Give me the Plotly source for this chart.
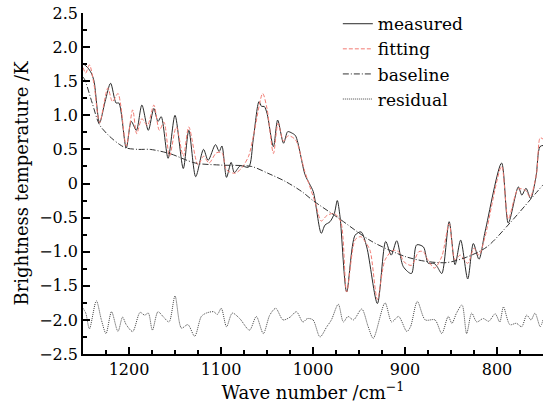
import plotly.graph_objects as go

# measured spectrum
meas_w = [1250, 1245, 1241, 1238, 1232, 1226, 1220, 1214, 1211, 1203, 1197.5, 1192, 1186, 1179, 1173,
          1168.5, 1165, 1157.5, 1150, 1141, 1135, 1127.5, 1119, 1114, 1106, 1102, 1099, 1094, 1089,
          1085.5, 1079, 1070, 1065, 1058.7, 1055.8, 1053, 1050, 1043, 1038.4, 1032, 1027.5, 1023, 1019,
          1008.7, 1004, 999.7, 991, 987, 981.5, 976.8, 973.6, 970.6, 963.4, 954.3, 947.8, 941.6, 930,
          921, 915, 909, 901.8, 893, 887.3, 880, 874.7, 868.5, 865, 860, 852, 845.6, 839.5, 831.8,
          825.7, 819.6, 813, 795, 787.7, 776.8, 773, 768.5, 763.4, 757.6, 753.3, 749]
meas_v = [1.76, 1.70, 1.62, 1.50, 0.89, 1.20, 1.47, 1.18, 1.18, 0.52, 0.91, 0.78, 1.15, 0.78, 1.10,
          0.91, 0.98, 0.37, 1.00, 0.22, 0.78, 0.10, 0.50, 0.34, 0.57, 0.47, 0.55, 0.09, 0.31,
          0.16, 0.26, 0.24, 0.64, 1.20, 1.13, 1.13, 1.03, 0.54, 0.93, 0.59, 0.76, 0.74, 0.70,
          0.13, 0.00, -0.12, -0.73, -0.61, -0.56, -0.44, -0.25, -0.49, -1.59, -0.76, -0.71, -0.93, -1.76,
          -0.85, -1.05, -0.84, -1.22, -1.32, -0.90, -0.93, -1.17, -1.17, -1.22, -1.32, -0.56, -1.19, -0.83, -1.40,
          -0.88, -1.11, -0.71, 0.30, -0.58, -0.05, -0.17, -0.07, -0.22, 0.10, 0.54, 0.56]

# fitted spectrum
fit_w = [1250, 1247, 1243, 1238, 1232, 1223, 1218, 1212, 1209, 1203, 1196, 1191.6, 1186, 1180, 1173,
         1167, 1162, 1156, 1148.6, 1141, 1135, 1125, 1119, 1113, 1105, 1099, 1094, 1085, 1078, 1070,
         1064, 1054.7, 1050, 1043, 1038, 1032, 1027, 1019, 1009, 997.8, 991, 985, 977, 970, 963.4,
         954, 948, 943.5, 938, 930, 921.7, 913, 907, 901, 893, 885, 880, 876, 868, 860, 852, 845.6,
         840, 831.8, 825, 819.6, 813, 795, 787.7, 777, 769, 764, 757, 753, 749]
fit_v = [1.70, 1.62, 1.74, 1.45, 0.89, 1.40, 1.20, 1.32, 1.15, 0.55, 1.08, 0.73, 0.95, 0.85, 1.15,
         0.78, 0.90, 0.40, 0.83, 0.40, 0.83, 0.27, 0.40, 0.30, 0.45, 0.45, 0.20, 0.15, 0.22, 0.40,
         0.75, 1.32, 1.10, 0.44, 0.88, 0.62, 0.70, 0.64, 0.18, -0.27, -0.55, -0.47, -0.44, -0.55, -1.59,
         -0.82, -0.78, -0.85, -0.98, -1.70, -1.12, -0.98, -1.00, -1.15, -1.20, -1.00, -1.00, -1.10, -1.24, -1.07, -0.59, -1.12,
         -1.05, -1.17, -0.95, -1.05, -0.78, 0.25, -0.52, -0.08, -0.10, -0.20, 0.15, 0.67, 0.64]

# baseline
base_w = [1250, 1248, 1240, 1232, 1221, 1210, 1203, 1190, 1177, 1156, 1128, 1100, 1067, 1049, 1030,
          1012, 1000, 972, 936, 900, 878, 855, 833, 811, 786, 764, 750]
base_v = [1.56, 1.52, 1.18, 0.86, 0.69, 0.57, 0.52, 0.50, 0.50, 0.44, 0.30, 0.27, 0.25, 0.15, 0.03,
          -0.12, -0.25, -0.51, -0.85, -1.07, -1.14, -1.16, -1.08, -0.93, -0.58, -0.24, -0.02]

# residual (offset by -2)
res_w = [1250, 1247, 1243, 1235.5, 1230, 1225, 1219, 1212, 1207, 1203, 1196, 1188, 1183, 1179, 1174.6,
         1168.5, 1163, 1156.5, 1150, 1143, 1136, 1128.6, 1121.4, 1116, 1108, 1104, 1099.7, 1094, 1087.7,
         1079.7, 1069, 1061.6, 1054, 1047, 1040.5, 1032.6, 1025, 1018, 1011, 1006, 1000, 992.4, 985,
         980, 972.5, 967, 962, 956, 947, 940, 934.5, 921.7, 914.5, 907, 898, 894, 886.6, 878, 867.4,
         860, 853, 849, 844, 838, 833, 827.5, 822, 815, 809, 802, 797, 793, 786, 779, 773.2, 767.7,
         763, 758.7, 753, 750]
res_v = [-1.83, -1.90, -2.13, -1.72, -2.00, -2.20, -1.88, -2.17, -1.96, -2.07, -2.17, -1.89, -1.93, -1.90, -2.15,
         -1.88, -1.95, -2.03, -1.65, -2.12, -2.07, -2.24, -1.95, -1.90, -1.88, -1.92, -1.83, -2.10, -1.90,
         -1.98, -2.15, -1.95, -2.20, -1.93, -1.83, -2.00, -1.96, -1.88, -2.03, -1.98, -2.00, -2.25, -2.10,
         -2.00, -1.77, -2.03, -1.95, -2.00, -1.84, -2.10, -2.27, -1.75, -2.03, -1.95, -2.17, -2.10, -1.73, -2.00, -2.00,
         -2.20, -1.95, -2.05, -1.90, -1.78, -2.20, -1.90, -2.03, -1.98, -2.02, -1.91, -2.03, -1.81, -2.07, -2.05, -2.10, -1.93,
         -2.00, -1.90, -2.10, -2.00]

y_ticks = [2.5, 2.0, 1.5, 1.0, 0.5, 0, -0.5, -1.0, -1.5, -2.0, -2.5]
y_tick_text = ["2.5", "2.0", "1.5", "1.0", "0.5", "0", "\u22120.5", "\u22121.0", "\u22121.5", "\u22122.0", "\u22122.5"]
x_ticks = [1200, 1100, 1000, 900, 800]
x_tick_text = ["1200", "1100", "1000", "900", "800"]

FONT = "DejaVu Serif"

fig = go.Figure()
fig.add_trace(go.Scatter(x=meas_w, y=meas_v, mode="lines", name="measured",
                         line=dict(color="#2a2a2a", width=1, shape="spline", smoothing=0.8)))
fig.add_trace(go.Scatter(x=fit_w, y=fit_v, mode="lines", name="fitting",
                         line=dict(color="#f27a72", width=1, dash="4px,2px", shape="spline", smoothing=0.8)))
fig.add_trace(go.Scatter(x=base_w, y=base_v, mode="lines", name="baseline",
                         line=dict(color="#333333", width=1, dash="6px,2px,1px,2px", shape="spline", smoothing=0.8)))
fig.add_trace(go.Scatter(x=res_w, y=res_v, mode="lines", name="residual",
                         line=dict(color="#444444", width=1, dash="1px,1px", shape="spline", smoothing=0.8)))

fig.update_layout(
    width=556, height=412,
    margin=dict(l=83, r=13, t=13, b=58, autoexpand=False),
    paper_bgcolor="white", plot_bgcolor="white",
    font=dict(family=FONT, size=16, color="black"),
    showlegend=True,
    legend=dict(x=0.554, y=1.02, xanchor="left", yanchor="top",
                bgcolor="rgba(0,0,0,0)", font=dict(family=FONT, size=17),
                tracegroupgap=0, itemwidth=30),
)
fig.update_xaxes(
    range=[1250, 750], showline=True, linecolor="black", linewidth=1.5,
    ticks="inside", ticklen=7, tickwidth=1.5, tickcolor="black",
    tickvals=x_ticks, ticktext=x_tick_text, showgrid=False, zeroline=False, automargin=False,
    minor=dict(dtick=25, tick0=750, ticks="inside", ticklen=4, tickwidth=1.5, tickcolor="black", showgrid=False),
    title=dict(text="Wave number /cm<sup>\u22121</sup>", font=dict(family=FONT, size=18), standoff=0),
    tickfont=dict(family=FONT, size=16),
)
fig.update_yaxes(
    range=[-2.5, 2.5], showline=True, linecolor="black", linewidth=1.5,
    ticks="inside", ticklen=7, tickwidth=1.5, tickcolor="black",
    tickvals=y_ticks, ticktext=y_tick_text, showgrid=False, zeroline=False, automargin=False,
    minor=dict(dtick=0.25, tick0=0, ticks="inside", ticklen=4, tickwidth=1.5, tickcolor="black", showgrid=False),
    title=dict(text="Brightness temperature /K", font=dict(family=FONT, size=18), standoff=6),
    tickfont=dict(family=FONT, size=16),
)

# remove the browser's default 8px body margin so the figure fills the window
fig.write_html("out.html", config={"displayModeBar": False},
               post_script="document.body.style.margin='0px';")
